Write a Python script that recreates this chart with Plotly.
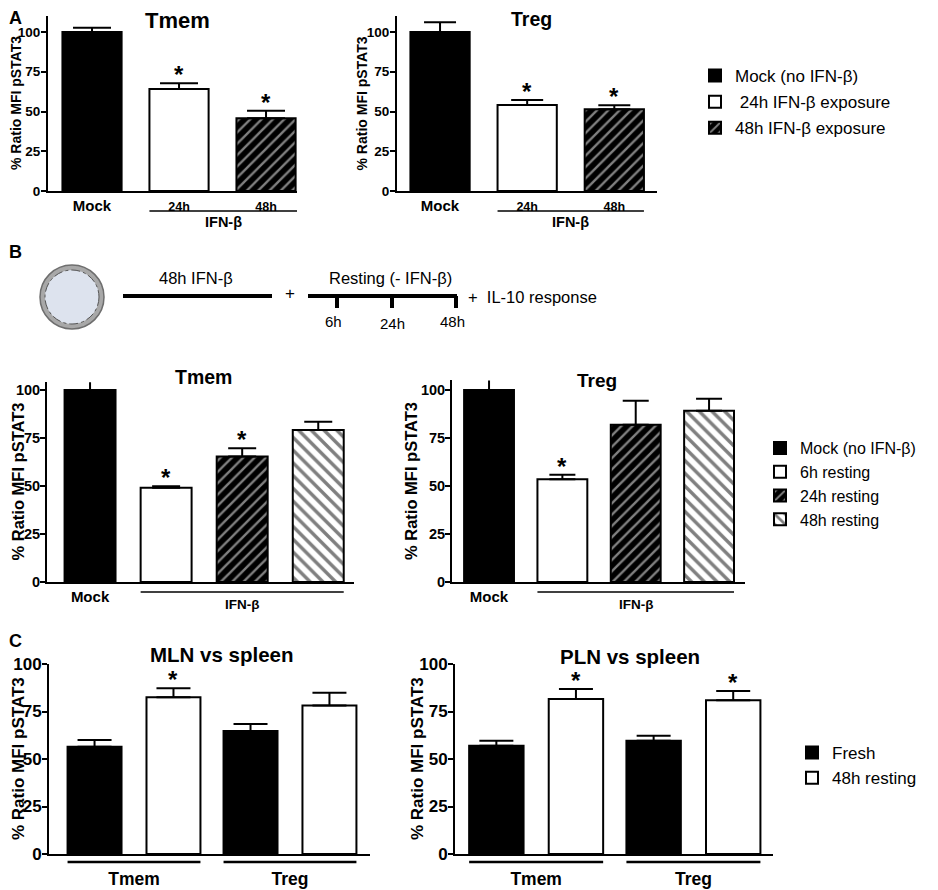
import plotly.graph_objects as go

FONT = "Liberation Sans"
W, H = 938, 890
PAGE_PAD = 8  # the page body adds 8px before the figure

# ---------------- data ----------------
# A: pSTAT3 after IFN-beta exposure
a_groups = ["Mock", "24h", "48h"]
a_names = ["Mock (no IFN-β)", " 24h IFN-β exposure", "48h IFN-β exposure"]
a_tmem = [100, 64.2, 45.7]
a_tmem_err = [2.7, 3.5, 4.8]
a_tmem_sig = [False, True, True]
a_treg = [100, 54.1, 51.4]
a_treg_err = [6.1, 3.1, 2.5]
a_treg_sig = [False, True, True]

# B: resting after 48h IFN-beta
b_groups = ["Mock", "6h", "24h", "48h"]
b_names = ["Mock (no IFN-β)", "6h resting", "24h resting", "48h resting"]
b_tmem = [100, 49.1, 65.3, 79.2]
b_tmem_err = [4.7, 0.8, 4.3, 4.3]
b_tmem_sig = [False, True, True, False]
b_treg = [100, 53.5, 81.9, 89.2]
b_treg_err = [9.2, 2.3, 12.5, 6.3]
b_treg_sig = [False, True, False, False]

# C: lymph nodes vs spleen
c_cells = ["Tmem", "Treg"]
c_names = ["Fresh", "48h resting"]
c_mln_fresh = [56.5, 64.7]
c_mln_fresh_err = [3.5, 3.7]
c_mln_rest = [82.5, 78.1]
c_mln_rest_err = [4.7, 6.8]
c_mln_sig = [True, False]
c_pln_fresh = [57.0, 59.6]
c_pln_fresh_err = [2.6, 2.7]
c_pln_rest = [81.6, 80.9]
c_pln_rest_err = [5.2, 4.9]
c_pln_sig = [True, True]


def px(x):
    return (x - PAGE_PAD) / W


def py(y):
    return 1 - (y - PAGE_PAD) / H


def bold(size):
    return dict(family=FONT, size=size, color="black", weight="bold")


def plain(size):
    return dict(family=FONT, size=size, color="black")


EDGE = dict(color="black", width=2)
SOLID = dict(color="black", line=EDGE)
OPEN = dict(color="white", line=EDGE)
HATCH_DARK = dict(color="black", line=EDGE,
                  pattern=dict(shape="/", fgcolor="white", bgcolor="black",
                               size=8, solidity=0.3))
HATCH_LIGHT = dict(color="white", line=EDGE,
                   pattern=dict(shape="\\", fgcolor="black", bgcolor="white",
                                size=9, solidity=0.38))

fig = go.Figure()


def add_bars(ax, cats, vals, errs, styles, names, legend, showlegend, width, capw):
    for cat, v, e, st, nm in zip(cats, vals, errs, styles, names):
        fig.add_trace(go.Bar(
            x=[cat], y=[v], width=width, name=nm, marker=st,
            xaxis="x" + ax, yaxis="y" + ax,
            error_y=dict(type="data", array=[e], arrayminus=[0], symmetric=False,
                         color="black", thickness=2, width=capw),
            legend=legend, legendgroup=nm, showlegend=showlegend,
            cliponaxis=False, hoverinfo="skip"))


def add_stars(ax, xs, vals, errs, sig):
    for x, v, e, s in zip(xs, vals, errs, sig):
        if s:
            fig.add_annotation(x=x, y=v + e, xref="x" + ax, yref="y" + ax,
                               text="*", showarrow=False, xanchor="center",
                               yanchor="bottom", yshift=-7, font=bold(24))


# panel A
add_bars("", a_groups, a_tmem, a_tmem_err, [SOLID, OPEN, HATCH_DARK], a_names,
         "legend", True, 0.68, 19)
add_bars("2", a_groups, a_treg, a_treg_err, [SOLID, OPEN, HATCH_DARK], a_names,
         "legend", False, 0.68, 16)
add_stars("", a_groups, a_tmem, a_tmem_err, a_tmem_sig)
add_stars("2", a_groups, a_treg, a_treg_err, a_treg_sig)

# panel B
b_styles = [SOLID, OPEN, HATCH_DARK, HATCH_LIGHT]
add_bars("3", b_groups, b_tmem, b_tmem_err, b_styles, b_names,
         "legend2", True, 0.67, 14)
add_bars("4", b_groups, b_treg, b_treg_err, b_styles, b_names,
         "legend2", False, 0.68, 13)
add_stars("3", b_groups, b_tmem, b_tmem_err, b_tmem_sig)
add_stars("4", b_groups, b_treg, b_treg_err, b_treg_sig)

# panel C (two bars per cell type)
C_W = 0.346
C_HALF = 0.253
for ax, fresh, fresh_err, rest, rest_err, sig, show in [
    ("5", c_mln_fresh, c_mln_fresh_err, c_mln_rest, c_mln_rest_err, c_mln_sig, True),
    ("6", c_pln_fresh, c_pln_fresh_err, c_pln_rest, c_pln_rest_err, c_pln_sig, False),
]:
    for vals, errs, st, nm, off in [(fresh, fresh_err, SOLID, c_names[0], -C_HALF),
                                    (rest, rest_err, OPEN, c_names[1], C_HALF)]:
        fig.add_trace(go.Bar(
            x=c_cells, y=vals, width=C_W, offset=off - C_W / 2, name=nm, marker=st,
            xaxis="x" + ax, yaxis="y" + ax,
            error_y=dict(type="data", array=errs, arrayminus=[0] * len(errs),
                         symmetric=False, color="black", thickness=2, width=17),
            legend="legend3", legendgroup=nm, showlegend=show,
            cliponaxis=False, hoverinfo="skip"))
    add_stars(ax, [i + C_HALF for i in range(len(c_cells))], rest, rest_err, sig)


# ---------------- axes ----------------
def xaxis(left, right, rng, anchor, **kw):
    d = dict(domain=[px(left), px(right)], range=rng, anchor=anchor,
             showline=True, linewidth=2, linecolor="black", ticks="",
             showgrid=False, zeroline=False, type="category", automargin=False)
    d.update(kw)
    return d


def yaxis(bottom, top, rng, anchor, tsize, standoff):
    return dict(domain=[py(bottom), py(top)], range=rng, anchor=anchor,
                showline=True, linewidth=2, linecolor="black",
                ticks="outside", ticklen=5, tickwidth=2, tickcolor="black",
                tickvals=[0, 25, 50, 75, 100], tickfont=bold(tsize),
                ticklabelstandoff=standoff,
                showgrid=False, zeroline=False, automargin=False)


small = "<span style='font-size:12.5px'>%s</span>"
a_ticks = ["Mock"] + [small % g for g in a_groups[1:]]

fig.update_layout(
    xaxis=xaxis(48, 297, [-0.506, 2.356], "y", tickvals=a_groups, ticktext=a_ticks,
                tickfont=bold(15)),
    yaxis=yaxis(191, 16.1, [0, 110], "x", 13.5, -2),
    xaxis2=xaxis(397, 657, [-0.494, 2.49], "y2", tickvals=a_groups, ticktext=a_ticks,
                 tickfont=bold(15)),
    yaxis2=yaxis(191, 16.1, [0, 110], "x2", 13.5, -2),
    xaxis3=xaxis(47, 354, [-0.566, 3.47], "y3", tickvals=["Mock"], tickfont=bold(15)),
    yaxis3=yaxis(582, 382.3, [0, 104], "x3", 14.5, -3),
    xaxis4=xaxis(452, 745, [-0.505, 3.49], "y4", tickvals=["Mock"], tickfont=bold(15)),
    yaxis4=yaxis(582, 380.4, [0, 105], "x4", 14.5, -3),
    xaxis5=xaxis(49, 370, [-0.545, 1.513], "y5", tickfont=bold(17.5),
                 ticklabelstandoff=8),
    yaxis5=yaxis(854, 664, [0, 100], "x5", 17, -3),
    xaxis6=xaxis(455, 773, [-0.516, 1.506], "y6", tickfont=bold(17.5),
                 ticklabelstandoff=8),
    yaxis6=yaxis(854, 664, [0, 100], "x6", 17, -3),
)

# y axis titles (placed as rotated text so they sit where the original has them)
Y_TITLE = "% Ratio MFI pSTAT3"
for x, y0, y1, size in [(15.5, 191, 16, 14), (361, 191, 16, 14),
                        (17.5, 582, 382, 16.5), (411, 582, 380, 16.5),
                        (18, 854, 664, 17), (417, 854, 664, 17)]:
    fig.add_annotation(xref="paper", yref="paper", x=px(x), y=py((y0 + y1) / 2),
                       text=Y_TITLE, textangle=-90, showarrow=False,
                       xanchor="center", yanchor="middle", font=bold(size))

# underline brackets and group labels below the x axes
for ax, x0, x1, yl, yt, text, size in [
    ("", 1 - 0.34, 2 + 0.36, -0.114, -0.177, "IFN-β", 14.5),
    ("2", 1 - 0.34, 2 + 0.34, -0.114, -0.177, "IFN-β", 14.5),
    ("3", 1 - 0.335, 3 + 0.335, -0.05, -0.115, "IFN-β", 13.5),
    ("4", 1 - 0.34, 3 + 0.34, -0.05, -0.114, "IFN-β", 13.5),
]:
    fig.add_shape(type="line", xref="x" + ax, yref="y%s domain" % ax,
                  x0=x0, x1=x1, y0=yl, y1=yl, line=dict(color="black", width=1.5))
    fig.add_annotation(xref="x" + ax, yref="y%s domain" % ax, x=(x0 + x1) / 2, y=yt,
                       text=text, showarrow=False, xanchor="center", yanchor="middle",
                       font=bold(size))

for ax in ["5", "6"]:
    for i in range(len(c_cells)):
        fig.add_shape(type="line", xref="x" + ax, yref="y%s domain" % ax,
                      x0=i - C_HALF - C_W / 2, x1=i + C_HALF + C_W / 2,
                      y0=-0.042, y1=-0.042, line=dict(color="black", width=2.5))

# panel letters and titles
for text, x, y, size in [("A", 15, 18, 18), ("B", 15, 252, 18), ("C", 15, 641, 18),
                         ("Tmem", 177, 21, 22), ("Treg", 531, 19, 19.5),
                         ("Tmem", 203, 377, 19.5), ("Treg", 597, 380, 19),
                         ("MLN vs spleen", 222, 654, 20.5), ("PLN vs spleen", 630, 656, 20.5)]:
    fig.add_annotation(xref="paper", yref="paper", x=px(x), y=py(y), text=text,
                       showarrow=False, xanchor="center", yanchor="middle",
                       font=bold(size))

# schematic of panel B
fig.add_shape(type="circle", xref="paper", yref="paper",
              x0=px(40), x1=px(104), y0=py(329), y1=py(265),
              fillcolor="#a8a8a8", line=dict(color="#6e6e6e", width=1.5))
fig.add_shape(type="circle", xref="paper", yref="paper",
              x0=px(45), x1=px(99), y0=py(324), y1=py(270),
              fillcolor="#dde3ee", line=dict(color="#555555", width=1, dash="dashdot"))
for x0, y0, x1, y1 in [(123, 296, 272, 296), (308, 296, 457, 296),
                       (337, 296, 337, 308), (392, 296, 392, 308), (456, 296, 456, 308)]:
    fig.add_shape(type="line", xref="paper", yref="paper",
                  x0=px(x0), y0=py(y0), x1=px(x1), y1=py(y1),
                  line=dict(color="black", width=4))
for text, x, y, size, anchor in [("48h IFN-β", 196, 278, 16.5, "center"),
                                 ("+", 290, 294, 17, "center"),
                                 ("Resting (- IFN-β)", 390, 278, 16.5, "center"),
                                 ("6h", 333, 322, 15, "center"),
                                 ("24h", 392, 323, 15, "center"),
                                 ("48h", 452, 322, 15, "center"),
                                 ("+  IL-10 response", 466, 297, 16.5, "left")]:
    fig.add_annotation(xref="paper", yref="paper", x=px(x), y=py(y), text=text,
                       showarrow=False, xanchor=anchor, yanchor="middle",
                       font=plain(size))

legend_common = dict(xanchor="left", yanchor="top", bgcolor="rgba(0,0,0,0)",
                     traceorder="grouped", itemwidth=30)
fig.update_layout(
    width=W, height=H, margin=dict(l=0, r=0, t=0, b=0),
    paper_bgcolor="white", plot_bgcolor="white", barmode="overlay",
    font=dict(family=FONT, color="black"),
    legend=dict(x=px(695), y=py(58), font=plain(17), tracegroupgap=1, **legend_common),
    legend2=dict(x=px(760), y=py(431), font=plain(16), tracegroupgap=0, **legend_common),
    legend3=dict(x=px(792), y=py(735), font=plain(17), tracegroupgap=0, **legend_common),
)

fig.write_html("out.html")
